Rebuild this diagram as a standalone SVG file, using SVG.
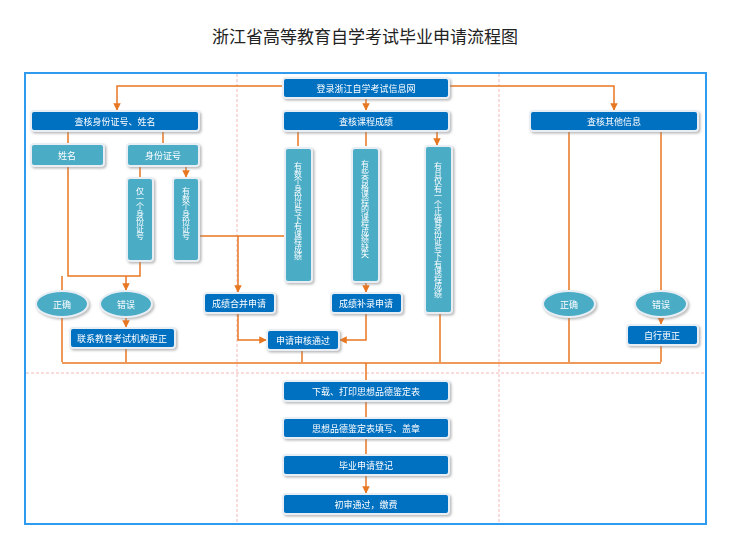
<svg xmlns="http://www.w3.org/2000/svg" width="730" height="538" viewBox="0 0 730 538">
<style>
text{font-family:"Noto Sans CJK SC","Liberation Sans",sans-serif;fill:#fff;font-size:9px;text-anchor:middle;dominant-baseline:central}
.d{fill:#0070C0;stroke:#e8eef4;stroke-width:2}
.l{fill:#4BACC6;stroke:#e8eef4;stroke-width:2}
.c path{fill:none;stroke:#E87722;stroke-width:1.5}
.v{writing-mode:tb;font-size:8px;letter-spacing:-0.5px}
</style>
<defs><marker id="a" viewBox="0 0 10 10" refX="9" refY="5" markerWidth="5" markerHeight="5" orient="auto"><path d="M0,0L10,5L0,10z" fill="#E87722"/></marker>
<filter id="s"><feDropShadow dx="1.5" dy="1.5" stdDeviation="1" flood-color="#888" flood-opacity="0.6"/></filter></defs>
<rect width="730" height="538" fill="#fff"/>
<text x="365" y="35" style="fill:#222;font-size:17px">浙江省高等教育自学考试毕业申请流程图</text>
<rect x="25" y="73" width="681" height="451" fill="none" stroke="#2E9BEF" stroke-width="2"/>
<g stroke="#F4A6A6" stroke-dasharray="3,2" stroke-width="0.8"><path d="M237,74V523M499,74V523M26,373H705"/></g>
<g class="c">
<path d="M283,86H117V110" marker-end="url(#a)"/>
<path d="M449,86H614V110" marker-end="url(#a)"/>
<path d="M366,98V110" marker-end="url(#a)"/>
<path d="M298,131V146M366,131V146M437,131V145" marker-end="url(#a)"/>
<path d="M68,131V143M163,131V143M140,166V177M186,166V177" marker-end="url(#a)"/>
<path d="M68,166V276H140V261"/>
<path d="M62,276V290M126,276V290" marker-end="url(#a)"/>
<path d="M126,317V327" marker-end="url(#a)"/>
<path d="M199,236H285M238,236V292" marker-end="url(#a)"/>
<path d="M366,282V292" marker-end="url(#a)"/>
<path d="M238,313V340H266" marker-end="url(#a)"/>
<path d="M366,313V340H340" marker-end="url(#a)"/>
<path d="M62,363H661"/>
<path d="M62,317V362M126,348V362M302,350V362M440,313V362M569,131V290M661,131V290M569,317V362M661,345V362M661,317V324" marker-end="url(#a)"/>
<path d="M366,363V380M366,401V417M366,438V454M366,475V493" marker-end="url(#a)"/>
</g>
<g filter="url(#s)">
<g id="n1"><rect class="d" x="283" y="78" width="166" height="20" rx="3"/><text x="366" y="88">登录浙江自学考试信息网</text></g>
<g id="n2"><rect class="d" x="283" y="111" width="166" height="20" rx="3"/><text x="366" y="121">查核课程成绩</text></g>
<g id="n3"><rect class="d" x="31" y="111" width="168" height="20" rx="3"/><text x="115" y="121">查核身份证号、姓名</text></g>
<g id="n4"><rect class="d" x="530" y="111" width="168" height="20" rx="3"/><text x="614" y="121">查核其他信息</text></g>
<g id="n5"><rect class="l" x="31" y="144" width="73" height="22" rx="3"/><text x="67" y="155">姓名</text></g>
<g id="n6"><rect class="l" x="127" y="144" width="72" height="22" rx="3"/><text x="163" y="155">身份证号</text></g>
<g id="n7"><rect class="l" x="127" y="178" width="26" height="83" rx="3"/><text class="v" x="140" y="187" style="text-anchor:start">仅一个身份证号</text></g>
<g id="n8"><rect class="l" x="173" y="178" width="26" height="83" rx="3"/><text class="v" x="186" y="187" style="text-anchor:start">有数个身份证号</text></g>
<g id="n9"><rect class="l" x="285" y="148" width="27" height="134" rx="3"/><text class="v" x="298" y="162" style="text-anchor:start">有数个身份证号下有课程成绩</text></g>
<g id="n10"><rect class="l" x="352" y="148" width="27" height="134" rx="3"/><text class="v" x="365" y="160" style="text-anchor:start">有些合格课程的课程成绩缺失</text></g>
<g id="n11"><rect class="l" x="425" y="146" width="27" height="167" rx="3"/><text class="v" x="438" y="162" style="text-anchor:start">有且仅有一个正确身份证号下有课程成绩</text></g>
<g id="n12"><ellipse class="l" cx="62" cy="304" rx="26" ry="13"/><text x="62" y="304">正确</text></g>
<g id="n13"><ellipse class="l" cx="126" cy="304" rx="26" ry="13"/><text x="126" y="304">错误</text></g>
<g id="n14"><rect class="d" x="70" y="328" width="105" height="20" rx="3"/><text x="122" y="338">联系教育考试机构更正</text></g>
<g id="n15"><rect class="d" x="204" y="293" width="71" height="20" rx="3"/><text x="239" y="303">成绩合并申请</text></g>
<g id="n16"><rect class="d" x="267" y="330" width="72" height="20" rx="3"/><text x="303" y="340">申请审核通过</text></g>
<g id="n17"><rect class="d" x="331" y="293" width="71" height="20" rx="3"/><text x="366" y="303">成绩补录申请</text></g>
<g id="n18"><ellipse class="l" cx="569" cy="304" rx="26" ry="13"/><text x="569" y="304">正确</text></g>
<g id="n19"><ellipse class="l" cx="661" cy="304" rx="26" ry="13"/><text x="661" y="304">错误</text></g>
<g id="n20"><rect class="d" x="627" y="325" width="71" height="20" rx="3"/><text x="662" y="335">自行更正</text></g>
<g id="n21"><rect class="d" x="283" y="381" width="166" height="20" rx="3"/><text x="366" y="391">下载、打印思想品德鉴定表</text></g>
<g id="n22"><rect class="d" x="283" y="418" width="166" height="20" rx="3"/><text x="366" y="428">思想品德鉴定表填写、盖章</text></g>
<g id="n23"><rect class="d" x="283" y="455" width="166" height="20" rx="3"/><text x="366" y="465">毕业申请登记</text></g>
<g id="n24"><rect class="d" x="283" y="494" width="166" height="20" rx="3"/><text x="366" y="504">初审通过，缴费</text></g>
</g>
</svg>
